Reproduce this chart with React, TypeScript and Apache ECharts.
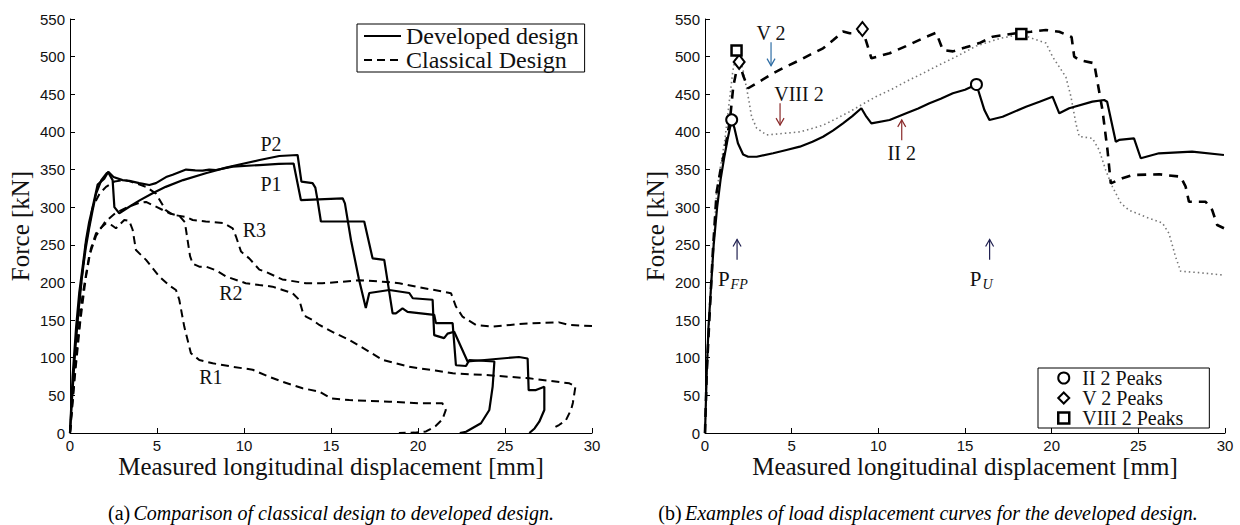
import React, { useEffect, useRef } from "react";
import * as echarts from "echarts";

// ---------------- DATA ----------------
// Panel (a): [displacement mm, force kN]
const p1Data: number[][] = [
  [0, 0], [0.15, 75], [0.35, 140], [0.53, 186], [0.75, 225], [0.92, 256], [1.1, 280], [1.3, 300],
  [1.59, 330], [1.97, 338], [2.2, 347], [2.5, 340], [3.02, 336], [3.41, 335], [3.98, 332], [4.56, 329.5],
  [4.94, 332], [5.52, 340], [5.9, 343], [6.67, 350], [7.2, 349], [7.62, 348.5], [8.0, 350], [8.39, 349.4],
  [9.35, 353.8], [10.88, 356], [12.0, 357.5], [12.85, 358], [13.27, 309.5], [15.67, 311.8], [15.8, 305],
  [16.15, 256], [16.6, 205], [17.0, 166], [17.2, 186], [18.35, 190], [19.5, 186], [19.7, 179], [20.84, 177],
  [20.93, 130], [21.5, 126], [21.7, 132], [22.08, 134.6], [22.85, 95], [25.8, 101], [26.3, 99], [26.36, 57],
  [26.78, 57], [27.26, 61.5], [27.26, 30.6], [26.97, 15], [26.7, 6], [26.4, 0],
];
const p2Data: number[][] = [
  [0, 0], [0.1, 40], [0.3, 110], [0.5, 165], [0.7, 210], [0.9, 245], [1.1, 272], [1.3, 296], [1.5, 318],
  [1.8, 336], [2.1, 345], [2.2, 346], [2.45, 336], [2.55, 300], [2.83, 292], [3.41, 300.6], [4.0, 309],
  [4.75, 318.5], [5.5, 327], [6.5, 336], [7.8, 345], [8.97, 352.5], [10.0, 358], [10.9, 362.7], [12.03, 368],
  [13.08, 369.3], [13.3, 334], [13.94, 332], [14.1, 326], [14.23, 309], [14.42, 281], [16.91, 281],
  [17.39, 232], [18.06, 230], [18.54, 159], [18.73, 159], [19.11, 165.6], [19.4, 161], [20.93, 157],
  [21.03, 146], [21.99, 146], [22.18, 90], [22.76, 89], [22.95, 97], [24.39, 95], [24.29, 61.5],
  [24.1, 30.6], [23.62, 13], [22.76, 1.7], [22.4, 0],
];
const r1Data: number[][] = [
  [0, 0], [0.3, 80], [0.6, 150], [0.9, 205], [1.2, 245], [1.49, 265], [1.8, 273], [2.07, 278.6], [2.4, 276],
  [2.64, 272], [3.12, 283], [3.4, 282], [3.6, 270], [3.79, 243], [4.37, 230], [5.13, 208], [5.7, 196],
  [6.09, 190], [6.28, 177], [6.57, 141], [6.95, 106], [7.43, 97], [8.2, 92.6], [9.35, 88], [10.5, 84],
  [11.3, 76], [12.22, 68], [13.37, 59.4], [14.33, 55], [15.0, 46], [16.05, 43.8], [18.35, 41.6],
  [20.08, 39.5], [21.4, 39.5], [21.6, 30.6], [21.4, 18], [21.0, 9], [20.46, 2], [19.8, 0.5], [18.9, 0],
];
const r2Data: number[][] = [
  [0, 0], [0.3, 90], [0.7, 180], [1.1, 235], [1.5, 262], [2.0, 280], [2.6, 292], [3.3, 300], [4.0, 306],
  [4.37, 307], [5.0, 300], [5.7, 292], [6.3, 288], [6.6, 280], [6.76, 256], [6.9, 235], [7.05, 225],
  [7.43, 221], [7.82, 221], [8.4, 216], [8.97, 208], [10.1, 199], [10.88, 196.6], [11.64, 194.4],
  [12.22, 190], [12.8, 185.6], [13.18, 176.7], [13.37, 161], [13.56, 154.5], [13.94, 150], [14.33, 143.5],
  [15.2, 133], [16.05, 123.6], [17.2, 108], [17.97, 97], [19.5, 88], [20.08, 86], [21.0, 83], [22.0, 79.3],
  [23.9, 77], [26.4, 72.6], [28.7, 66], [29.05, 62], [28.9, 40], [28.8, 31], [28.5, 17], [28.1, 10.6], [27.9, 8],
];
const r3Data: number[][] = [
  [0, 0], [0.3, 100], [0.6, 190], [0.9, 250], [1.3, 300], [1.7, 318], [2.07, 327], [2.55, 334], [3.12, 336],
  [3.5, 334], [4.0, 330], [4.37, 327], [4.94, 318], [5.5, 296], [5.9, 290], [6.67, 287], [7.05, 283],
  [7.8, 281], [8.8, 279], [9.35, 272], [9.54, 261], [9.83, 241], [10.3, 232], [10.88, 217], [11.26, 214],
  [12.2, 204], [13.56, 199], [14.5, 199], [15.67, 201], [16.6, 203], [17.97, 201], [18.92, 199],
  [19.9, 194.4], [21.4, 188], [21.9, 185.6], [22.18, 168], [22.56, 154.5], [23.33, 143.5], [24.29, 141.2],
  [25.82, 144.8], [26.6, 145.7], [28.1, 147], [28.7, 143.5], [30, 142],
];

// Panel (b)
const ii2Data: number[][] = [
  [0, 0], [0.1, 80], [0.2, 140], [0.35, 195], [0.5, 250], [0.7, 300], [0.9, 337], [1.1, 365], [1.3, 390],
  [1.54, 416], [1.7, 405], [1.9, 385], [2.2, 370], [2.49, 367], [2.98, 367], [3.93, 371.6], [4.7, 376],
  [5.47, 380.4], [6.2, 387], [6.81, 393.6], [7.4, 402], [7.96, 411.4], [8.5, 421], [9.02, 431.4],
  [9.31, 420.2], [9.6, 411.4], [10.65, 415.8], [11.61, 424.7], [12.3, 431], [12.95, 438], [13.6, 444],
  [14.3, 451.3], [15.0, 456], [15.66, 463], [16.12, 429], [16.41, 415.8], [17.17, 420.2], [18.52, 433.5],
  [19.3, 440], [20.05, 446.8], [20.44, 424.7], [21.01, 431.4], [22.35, 440.2], [23.03, 442.4], [23.2, 440],
  [23.7, 387], [23.89, 389.3], [24.75, 391.5], [25.14, 365], [26.19, 371.6], [28.1, 373.7], [29.94, 369.3],
];
const v2Data: number[][] = [
  [0, 0], [0.1, 80], [0.25, 150], [0.45, 240], [0.67, 320], [0.9, 350], [1.15, 376], [1.44, 416],
  [1.63, 460], [1.82, 482], [1.97, 493], [2.2, 475], [2.49, 458], [2.98, 464.6], [3.93, 478], [4.7, 487],
  [5.47, 495.5], [6.1, 503], [6.81, 511], [7.4, 522], [7.96, 533.4], [8.35, 531], [8.73, 531], [9.08, 536.7],
  [9.6, 497.8], [10.65, 504.5], [11.6, 514], [12.57, 524.4], [13.34, 531.8], [13.72, 508.8], [14.3, 507],
  [15.0, 512], [15.83, 518], [16.6, 526.5], [17.94, 531], [18.8, 533], [19.67, 535.4], [20.44, 533],
  [21.15, 526], [21.3, 500], [21.59, 495.5], [22.45, 491.2], [22.64, 466.7], [22.93, 429], [23.22, 376],
  [23.41, 331.7], [24.08, 338.4], [24.66, 342.8], [26.19, 343.7], [27.44, 340.5], [27.73, 327.2],
  [27.92, 307.3], [28.88, 307.3], [29.26, 296.3], [29.55, 276.3], [29.94, 272],
];
const viii2Data: number[][] = [
  [0, 0], [0.1, 80], [0.25, 150], [0.45, 240], [0.67, 320], [0.9, 355], [1.15, 390], [1.4, 440], [1.6, 480],
  [1.82, 508], [2.0, 500], [2.2, 482], [2.49, 447], [2.69, 420], [2.98, 405], [3.55, 396], [4.51, 398],
  [5.47, 400], [6.1, 404], [6.81, 409], [7.6, 418], [8.35, 427], [9.1, 437], [9.88, 447], [10.8, 457],
  [11.61, 467], [12.5, 477], [13.34, 487], [14.49, 500], [15.64, 514], [16.98, 524], [18.25, 530],
  [18.9, 524], [19.67, 518], [20.05, 500], [20.82, 473], [21.11, 447], [21.4, 411], [21.59, 394],
  [22.35, 391.5], [22.74, 376], [23.12, 349], [23.51, 327], [24.0, 305], [24.47, 296], [25.43, 287],
  [26.39, 279], [26.77, 265], [27.15, 234], [27.44, 215], [28.5, 213], [29.84, 210],
];
const ii2Peaks: number[][] = [[1.54, 416], [15.66, 463]];
const v2Peaks: number[][] = [[1.97, 493], [9.08, 536.7]];
const viii2Peaks: number[][] = [[1.82, 508], [18.25, 530]];

const xTickInterval = 5;
const yTickInterval = 50;
const xMax = 30;
const yMax = 550;

const legendA = ["Developed design", "Classical Design"];
const legendB = ["II 2 Peaks", "V 2 Peaks", "VIII 2 Peaks"];
const xTitle = "Measured longitudinal displacement [mm]";
const yTitle = "Force [kN]";
const captionA = ["(a)", "Comparison of classical design to developed design."];
const captionB = ["(b)", "Examples of load displacement curves for the developed design."];

// curve labels (data coordinates)
const labelsA = [
  { text: "P2", x: 11.55, y: 384 },
  { text: "P1", x: 11.55, y: 331 },
  { text: "R3", x: 10.6, y: 270 },
  { text: "R2", x: 9.25, y: 186 },
  { text: "R1", x: 8.1, y: 75 },
];
const labelsB = [
  { text: "V 2", x: 3.81, y: 531 },
  { text: "VIII 2", x: 5.42, y: 450 },
  { text: "II 2", x: 11.35, y: 372 },
];
const arrowsB = [
  { x: 3.81, from: 519, to: 488, color: "#2f6ea5" },
  { x: 4.33, from: 438, to: 409, color: "#8a2a2a" },
  { x: 11.35, from: 389, to: 416, color: "#8a2a2a" },
  { x: 1.85, from: 230, to: 257, color: "#202050" },
  { x: 16.42, from: 230, to: 257, color: "#202050" },
];
const subLabelsB = [
  { main: "P", sub: "FP", x: 1.42, y: 204 },
  { main: "P", sub: "U", x: 15.95, y: 204 },
];

const SERIF = '"Liberation Serif", "Times New Roman", serif';
const SANS = '"Liberation Sans", Arial, sans-serif';
const INK = "#111";

function makeX(gridIndex: number) {
  return {
    type: "value",
    gridIndex,
    min: 0,
    max: xMax,
    interval: xTickInterval,
    name: xTitle,
    nameLocation: "middle",
    nameGap: 21,
    nameMoveOverlap: false,
    nameTextStyle: { fontFamily: SERIF, fontSize: 25, color: INK },
    axisLine: { show: true, onZero: false, lineStyle: { color: "#000", width: 1 } },
    axisTick: { show: true, inside: true, length: 5, lineStyle: { color: "#000", width: 1 } },
    axisLabel: { fontFamily: SANS, fontSize: 15, color: INK, margin: 5 },
    splitLine: { show: false },
  };
}
function makeY(gridIndex: number) {
  return {
    type: "value",
    gridIndex,
    min: 0,
    max: yMax,
    interval: yTickInterval,
    name: yTitle,
    nameLocation: "middle",
    nameRotate: 90,
    nameGap: 37,
    nameMoveOverlap: false,
    nameTextStyle: { fontFamily: SERIF, fontSize: 25, color: INK },
    axisLine: { show: true, onZero: false, lineStyle: { color: "#000", width: 1 } },
    axisTick: { show: true, inside: true, length: 5, lineStyle: { color: "#000", width: 1 } },
    axisLabel: { fontFamily: SANS, fontSize: 15, color: INK, margin: 5 },
    splitLine: { show: false },
  };
}

function lineSeries(name: string, data: number[][], gi: number, lineStyle: any, z = 2) {
  return {
    type: "line",
    name,
    data,
    xAxisIndex: gi,
    yAxisIndex: gi,
    symbol: "none",
    showSymbol: false,
    smooth: false,
    z,
    lineStyle,
    itemStyle: { color: lineStyle.color },
    emphasis: { disabled: true },
  };
}

const solidA = { color: "#000", width: 2.2, type: "solid" };
const dashedA = { color: "#000", width: 2, type: [8, 5] };
const markerStyle = { color: "#fff", borderColor: "#000", borderWidth: 2, opacity: 1 };
const hiddenSymbol = { color: "rgba(0,0,0,0)", borderWidth: 0, opacity: 0 };

export default function App() {
  const ref = useRef<HTMLDivElement>(null);
  useEffect(() => {
    if (!ref.current) return;
    const chart = echarts.init(ref.current, undefined, { renderer: "svg" });
    const option: any = {
      animation: false,
      backgroundColor: "#fff",
      grid: [
        { left: 70, top: 19, width: 522, height: 414, outerBoundsMode: "none", containLabel: false },
        { left: 705, top: 19, width: 520, height: 414, outerBoundsMode: "none", containLabel: false },
      ],
      xAxis: [makeX(0), makeX(1)],
      yAxis: [makeY(0), makeY(1)],
      legend: [
        {
          data: legendA.map((n) => ({ name: n, itemStyle: hiddenSymbol })),
          orient: "vertical",
          left: 357,
          top: 24,
          padding: [0, 6, 0, 6],
          itemGap: 0,
          itemWidth: 37,
          itemHeight: 14,
          borderColor: "#000",
          borderWidth: 1,
          backgroundColor: "#fff",
          selectedMode: false,
          textStyle: { fontFamily: SERIF, fontSize: 24, color: INK },
        },
        {
          data: [
            { name: legendB[0], icon: "circle", itemStyle: markerStyle },
            { name: legendB[1], icon: "diamond", itemStyle: markerStyle },
            { name: legendB[2], icon: "rect", itemStyle: { ...markerStyle, borderWidth: 2.5 } },
          ],
          orient: "vertical",
          left: 1038,
          top: 368,
          padding: [0, 26, 0, 19],
          itemGap: 0,
          itemWidth: 11,
          itemHeight: 11,
          borderColor: "#000",
          borderWidth: 1,
          backgroundColor: "#fff",
          selectedMode: false,
          textStyle: { fontFamily: SERIF, fontSize: 20, color: INK, padding: [0, 0, 0, 8] },
        },
      ],
      series: [
        lineSeries(legendA[1], r1Data, 0, dashedA),
        lineSeries(legendA[1], r2Data, 0, dashedA),
        lineSeries(legendA[1], r3Data, 0, dashedA),
        lineSeries(legendA[0], p1Data, 0, solidA, 3),
        lineSeries(legendA[0], p2Data, 0, solidA, 3),
        lineSeries("VIII 2", viii2Data, 1, { color: "#777", width: 1.6, type: [1.5, 3] }),
        lineSeries("V 2", v2Data, 1, { color: "#000", width: 2.6, type: [9, 7] }, 3),
        lineSeries("II 2", ii2Data, 1, { color: "#000", width: 2.2, type: "solid" }, 4),
        {
          type: "scatter", name: legendB[0], data: ii2Peaks, xAxisIndex: 1, yAxisIndex: 1,
          symbol: "circle", symbolSize: 11, itemStyle: markerStyle, z: 10, emphasis: { disabled: true },
        },
        {
          type: "scatter", name: legendB[1], data: v2Peaks, xAxisIndex: 1, yAxisIndex: 1,
          symbol: "diamond", symbolSize: [11, 14], itemStyle: markerStyle, z: 10, emphasis: { disabled: true },
        },
        {
          type: "scatter", name: legendB[2], data: viii2Peaks, xAxisIndex: 1, yAxisIndex: 1,
          symbol: "rect", symbolSize: 10, itemStyle: { ...markerStyle, borderWidth: 2.5 }, z: 10,
          emphasis: { disabled: true },
        },
      ],
    };
    chart.setOption(option);

    const px = (gi: number, x: number, y: number) =>
      chart.convertToPixel({ gridIndex: gi } as any, [x, y]) as number[];

    const graphics: any[] = [];
    labelsA.forEach((l) => {
      const p = px(0, l.x, l.y);
      graphics.push({
        type: "text", x: p[0], y: p[1], z: 20,
        style: { text: l.text, fontFamily: SERIF, fontSize: 20, fill: INK, align: "center", verticalAlign: "middle" },
      });
    });
    labelsB.forEach((l) => {
      const p = px(1, l.x, l.y);
      graphics.push({
        type: "text", x: p[0], y: p[1], z: 20,
        style: { text: l.text, fontFamily: SERIF, fontSize: 20, fill: INK, align: "center", verticalAlign: "middle" },
      });
    });
    arrowsB.forEach((a) => {
      const s = px(1, a.x, a.from);
      const e = px(1, a.x, a.to);
      const dir = e[1] > s[1] ? 1 : -1;
      graphics.push({
        type: "line", z: 20,
        shape: { x1: s[0], y1: s[1], x2: e[0], y2: e[1] },
        style: { stroke: a.color, lineWidth: 1.2 },
      });
      graphics.push({
        type: "polyline", z: 20,
        shape: { points: [[e[0] - 4, e[1] - dir * 7], [e[0], e[1]], [e[0] + 4, e[1] - dir * 7]] },
        style: { stroke: a.color, lineWidth: 1.2, fill: "none" },
      });
    });
    subLabelsB.forEach((l) => {
      const p = px(1, l.x, l.y);
      graphics.push({
        type: "text", x: p[0], y: p[1], z: 20,
        style: { text: l.main, fontFamily: SERIF, fontSize: 21, fill: INK, align: "right", verticalAlign: "middle" },
      });
      graphics.push({
        type: "text", x: p[0] + 1, y: p[1] + 5, z: 20,
        style: { text: l.sub, fontFamily: SERIF, fontStyle: "italic", fontSize: 14, fill: INK, align: "left", verticalAlign: "middle" },
      });
    });
    const cap = (c: string[], x: number) => ({
      type: "text", x, y: 513, z: 20,
      style: {
        text: `{n|${c[0]}} {i|${c[1]}}`,
        align: "center",
        verticalAlign: "middle",
        rich: {
          n: { fontFamily: SERIF, fontSize: 20, fill: "#000" },
          i: { fontFamily: SERIF, fontSize: 20, fontStyle: "italic", fill: "#000" },
        },
      },
    });
    graphics.push(cap(captionA, 331));
    graphics.push(cap(captionB, 928));
    chart.setOption({ graphic: graphics });

    return () => chart.dispose();
  }, []);
  return (
    <div
      ref={ref}
      style={{ position: "absolute", left: 0, top: 0, width: 1240, height: 525, background: "#fff" }}
    />
  );
}
